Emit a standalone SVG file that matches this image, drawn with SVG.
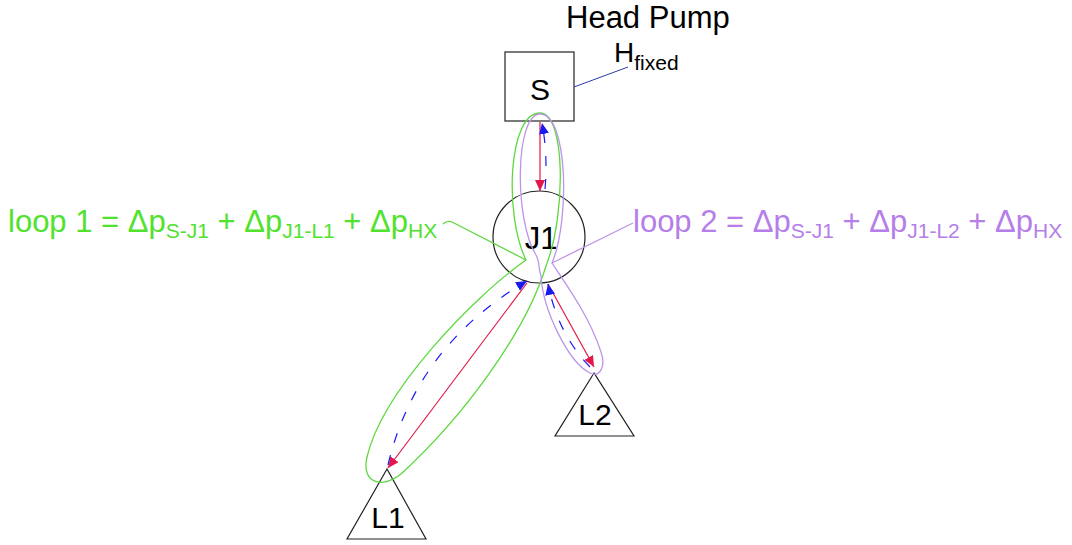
<svg xmlns="http://www.w3.org/2000/svg" width="1072" height="545" viewBox="0 0 1072 545">
<defs>
<style>
.node{fill:#ffffff;stroke:#222222;stroke-width:1.2}
.lbl{font-family:"Liberation Sans",Arial,sans-serif;fill:#000000}
.big{font-size:30px}
.red{stroke:#e3184a;stroke-width:1.2;fill:none}
.blue{stroke:#1a1aee;stroke-width:1.2;fill:none;stroke-dasharray:10 13}
.g{stroke:#5cd93e;stroke-width:1.3;fill:none}
.p{stroke:#bb95e8;stroke-width:1.3;fill:none}
.gt{font-family:"Liberation Sans",Arial,sans-serif;font-size:31px;fill:#50e22c}
.pt{font-family:"Liberation Sans",Arial,sans-serif;font-size:31px;fill:#b57ee8}
.sub{font-size:21px}
</style>
<marker id="ar" markerUnits="userSpaceOnUse" markerWidth="12" markerHeight="10" refX="11" refY="5" orient="auto">
<path d="M0,0 L11,5 L0,10 z" fill="#e3184a"/>
</marker>
<marker id="ab" markerUnits="userSpaceOnUse" markerWidth="12" markerHeight="10" refX="11" refY="5" orient="auto">
<path d="M0,0 L11,5 L0,10 z" fill="#1a1aee"/>
</marker>
</defs>
<rect width="1072" height="545" fill="#ffffff"/>

<g id="head-pump">
<text class="lbl" x="566" y="28" font-size="31">Head Pump</text>
<text class="lbl" x="614" y="62" font-size="28">H<tspan font-size="21" dy="8">fixed</tspan></text>
</g>

<g id="S">
<rect class="node" x="505" y="52" width="69" height="69"/>
<text class="lbl big" x="540" y="100" text-anchor="middle">S</text>
</g>

<g id="J1">
<circle class="node" cx="539" cy="237" r="46"/>
<text class="lbl" x="541" y="249" font-size="31" text-anchor="middle">J1</text>
</g>

<g id="L1">
<polygon class="node" points="387,469 347,539 426,539"/>
<text class="lbl big" x="388" y="528" text-anchor="middle">L1</text>
</g>

<g id="L2">
<polygon class="node" points="594,373 555,436 634,436"/>
<text class="lbl big" x="595" y="425" text-anchor="middle">L2</text>
</g>

<g id="connectors">
<path d="M574,87 L628,67" stroke="#2a3aa8" stroke-width="1" fill="none"/>

<path class="g" d="M540,113 C508,113 504,215 526,260 C472,298 382,392 367,457 C361,482 381,490 401,474 C460,420 525,335 546,266 C566,215 566,113 540,113 Z"/>
<path class="g" d="M443,224 Q447,220 452,222 L526,260"/>

<path class="p" d="M540,114 C515,114 514,220 536,255 C540,262 538,268 541,276 C543,310 568,362 590,373 C600,378 606,366 601,352 C590,318 570,290 552,263 C570,220 568,114 540,114 Z"/>
<path class="p" d="M552,263 L633,223"/>

<path class="red" d="M540,122 L540,191" marker-end="url(#ar)"/>
<path class="blue" d="M545,189 Q548,155 542,123" marker-end="url(#ab)"/>

<path class="red" d="M527,283 L388,468" marker-end="url(#ar)"/>
<path class="blue" d="M388,465 Q416,346 527,281" marker-end="url(#ab)"/>

<path class="red" d="M548,284 L594,367" marker-end="url(#ar)"/>
<path class="blue" d="M590,367 Q558,334 548,284" marker-end="url(#ab)"/>
</g>

<g id="loop1-label">
<text class="gt" x="8" y="232">loop 1 = Δp<tspan class="sub" dy="6">S-J1</tspan><tspan dy="-6"> + Δp</tspan><tspan class="sub" dy="6">J1-L1</tspan><tspan dy="-6"> + Δp</tspan><tspan class="sub" dy="6">HX</tspan></text>
</g>

<g id="loop2-label">
<text class="pt" x="633" y="232">loop 2 = Δp<tspan class="sub" dy="6">S-J1</tspan><tspan dy="-6"> + Δp</tspan><tspan class="sub" dy="6">J1-L2</tspan><tspan dy="-6"> + Δp</tspan><tspan class="sub" dy="6">HX</tspan></text>
</g>
</svg>
